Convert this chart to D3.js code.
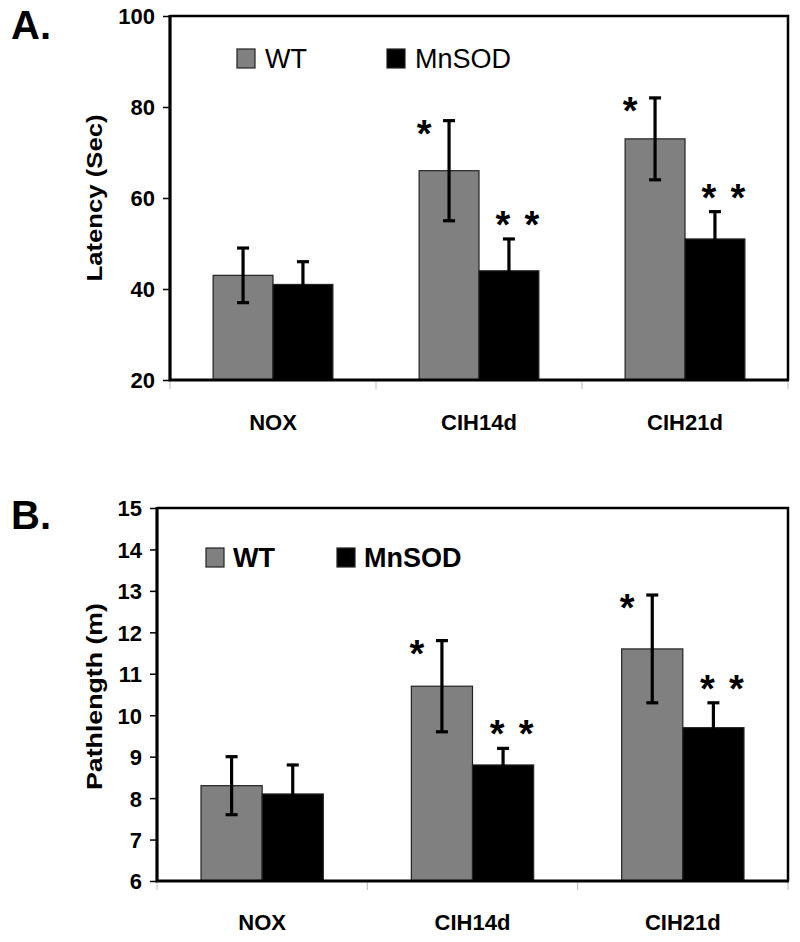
<!DOCTYPE html>
<html>
<head>
<meta charset="utf-8">
<script src="https://cdn.jsdelivr.net/npm/d3@7"></script>
<style>
  body { margin: 0; background: #fff; }
  svg { font-family: "Liberation Sans", Arial, sans-serif; }
</style>
</head>
<body>
<div id="chart"></div>
<script>
// DATA
var categories = ["NOX", "CIH14d", "CIH21d"];
var series = ["WT", "MnSOD"];

// A. Latency (Sec)
var latencyWT     = [43, 66, 73];
var latencyWTErr  = [6, 11, 9];
var latencyMn     = [41, 44, 51];
var latencyMnErr  = [5, 7, 6];
var latencyTicks  = [20, 40, 60, 80, 100];
var latencySig    = [["CIH14d", "WT", 1], ["CIH14d", "MnSOD", 2], ["CIH21d", "WT", 1], ["CIH21d", "MnSOD", 2]];

// B. Pathlength (m)
var pathWT     = [8.3, 10.7, 11.6];
var pathWTErr  = [0.7, 1.1, 1.3];
var pathMn     = [8.1, 8.8, 9.7];
var pathMnErr  = [0.7, 0.4, 0.6];
var pathTicks  = [6, 7, 8, 9, 10, 11, 12, 13, 14, 15];
var pathSig    = [["CIH14d", "WT", 1], ["CIH14d", "MnSOD", 2], ["CIH21d", "WT", 1], ["CIH21d", "MnSOD", 2]];

var colors = { WT: "#808080", MnSOD: "#000000" };

var svg = d3.select("#chart").append("svg")
    .attr("width", 800)
    .attr("height", 942);

// builds the rows the bar drawing wants
function rows(wt, wtErr, mn, mnErr) {
  var out = [];
  categories.forEach(function(c, i) {
    out.push({ cat: c, s: "WT", v: wt[i], e: wtErr[i] });
    out.push({ cat: c, s: "MnSOD", v: mn[i], e: mnErr[i] });
  });
  return out;
}

function drawPanel(p) {
  var g = svg.append("g");

  var x0 = d3.scaleBand().domain(categories).range([p.left, p.right]).padding(0);
  var x1 = d3.scaleBand().domain(series).range([0, x0.bandwidth()])
      .paddingInner(0).paddingOuter(0.72);
  var y = d3.scaleLinear().domain(p.domain).range([p.bottom, p.top]);

  // bars
  g.selectAll("rect.bar")
      .data(p.data)
      .enter().append("rect")
      .attr("class", "bar")
      .attr("x", d => x0(d.cat) + x1(d.s))
      .attr("width", x1.bandwidth())
      .attr("y", d => y(d.v))
      .attr("height", d => y(p.domain[0]) - y(d.v))
      .style("fill", d => colors[d.s])
      .style("stroke", "#222")
      .style("stroke-width", 1.2);

  // error bars
  var cap = 6;
  var eb = g.selectAll("g.err").data(p.data).enter().append("g")
      .style("stroke", "#000").style("stroke-width", 3.2);
  eb.append("line")
      .attr("x1", d => x0(d.cat) + x1(d.s) + x1.bandwidth() / 2)
      .attr("x2", d => x0(d.cat) + x1(d.s) + x1.bandwidth() / 2)
      .attr("y1", d => y(d.v - d.e))
      .attr("y2", d => y(d.v + d.e));
  eb.append("line")
      .attr("x1", d => x0(d.cat) + x1(d.s) + x1.bandwidth() / 2 - cap)
      .attr("x2", d => x0(d.cat) + x1(d.s) + x1.bandwidth() / 2 + cap)
      .attr("y1", d => y(d.v + d.e))
      .attr("y2", d => y(d.v + d.e));
  eb.append("line")
      .attr("x1", d => x0(d.cat) + x1(d.s) + x1.bandwidth() / 2 - cap)
      .attr("x2", d => x0(d.cat) + x1(d.s) + x1.bandwidth() / 2 + cap)
      .attr("y1", d => y(d.v - d.e))
      .attr("y2", d => y(d.v - d.e));

  // significance stars
  // WT: one star left of the error bar top; MnSOD: two stars above the error bar
  p.sig.forEach(function(s) {
    var d = p.data.find(r => r.cat == s[0] && r.s == s[1]);
    var cx = x0(d.cat) + x1(d.s) + x1.bandwidth() / 2;
    var top = y(d.v + d.e);
    var pos = s[2] == 1 ? [[cx - 25, top + 5]] : [[cx - 6, top - 22], [cx + 23, top - 22]];
    pos.forEach(function(q) {
      g.append("text")
          .attr("x", q[0]).attr("y", q[1] + 21)
          .attr("text-anchor", "middle")
          .style("font-size", "38px").style("font-weight", "bold")
          .text("*");
    });
  });

  // y axis
  var ya = g.append("g")
      .attr("transform", "translate(" + p.left + ",0)")
      .call(d3.axisLeft(y).tickValues(p.ticks).tickSize(7).tickSizeOuter(0).tickPadding(8));
  ya.select(".domain").remove();
  ya.selectAll(".tick line").style("stroke", "#000").style("stroke-width", 1.5);
  ya.selectAll("text")
      .style("font-size", "22px").style("font-weight", "bold").style("fill", "#000")
      .attr("dy", "0.36em");

  // faint category boundary ticks under the x axis
  g.selectAll("line.ct")
      .data(categories.slice(1).concat(["end"]))
      .enter().append("line")
      .attr("x1", d => d == "end" ? p.right : x0(d))
      .attr("x2", d => d == "end" ? p.right : x0(d))
      .attr("y1", p.bottom).attr("y2", p.bottom + 9)
      .style("stroke", "#bbb").style("stroke-width", 1);
  g.append("line")
      .attr("x1", p.left).attr("x2", p.left)
      .attr("y1", p.bottom).attr("y2", p.bottom + 9)
      .style("stroke", "#bbb").style("stroke-width", 1);

  // category labels
  g.selectAll("text.cat")
      .data(categories)
      .enter().append("text")
      .attr("x", d => x0(d) + x0.bandwidth() / 2)
      .attr("y", p.labelY)
      .attr("text-anchor", "middle")
      .style("font-size", "22px").style("font-weight", "bold")
      .text(d => d);

  // frame: thin top/right, heavier left/bottom
  g.append("path")
      .attr("d", "M" + p.left + "," + p.top + "H" + p.right + "V" + p.bottom)
      .style("fill", "none").style("stroke", "#000").style("stroke-width", 2.5);
  g.append("path")
      .attr("d", "M" + p.left + "," + (p.top - 1) + "V" + p.bottom + "H" + (p.right + 1))
      .style("fill", "none").style("stroke", "#000").style("stroke-width", 3.2);

  // y title
  g.append("text")
      .attr("transform", "translate(" + p.titleX + "," + ((p.top + p.bottom) / 2 + p.titleShift) + ") rotate(-90)")
      .attr("text-anchor", "middle")
      .attr("textLength", p.titleLen).attr("lengthAdjust", "spacingAndGlyphs")
      .style("font-size", "22px").style("font-weight", "bold")
      .text(p.title);

  // panel letter
  g.append("text")
      .attr("x", 11).attr("y", p.letterY)
      .style("font-size", "40px").style("font-weight", "bold")
      .text(p.letter);

  // legend
  series.forEach(function(s, i) {
    var lx = p.legend[i];
    g.append("rect")
        .attr("x", lx).attr("y", p.legendY - 19)
        .attr("width", 18).attr("height", 19)
        .style("fill", colors[s]).style("stroke", "#222").style("stroke-width", 1.2);
    g.append("text")
        .attr("x", lx + p.legendGap).attr("y", p.legendY)
        .style("font-size", "27px").style("font-weight", p.legendWeight)
        .text(s);
  });
}

drawPanel({
  left: 170, right: 788, top: 16, bottom: 380,
  domain: [20, 100], ticks: latencyTicks,
  data: rows(latencyWT, latencyWTErr, latencyMn, latencyMnErr),
  sig: latencySig,
  labelY: 430,
  title: "Latency (Sec)", titleX: 102, titleShift: 0, titleLen: 167,
  letter: "A.", letterY: 39,
  legend: [237, 387], legendY: 68, legendGap: 28, legendWeight: "normal"
});

drawPanel({
  left: 157, right: 788, top: 508, bottom: 881,
  domain: [6, 15], ticks: pathTicks,
  data: rows(pathWT, pathWTErr, pathMn, pathMnErr),
  sig: pathSig,
  labelY: 930,
  title: "Pathlength (m)", titleX: 102, titleShift: 2, titleLen: 187,
  letter: "B.", letterY: 529,
  legend: [206, 337], legendY: 567, legendGap: 27, legendWeight: "bold"
});
</script>
</body>
</html>
